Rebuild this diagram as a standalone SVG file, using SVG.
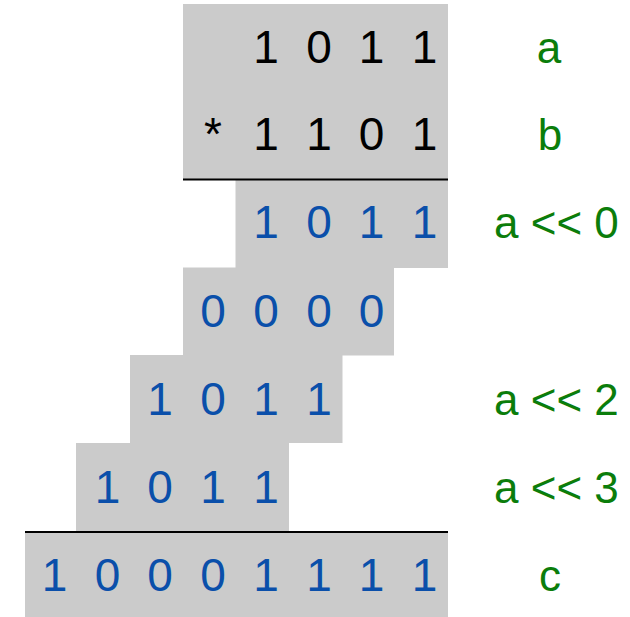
<svg xmlns="http://www.w3.org/2000/svg" width="630" height="617" viewBox="0 0 630 617">
  <style>
    .cell { fill: #cbcbcb; }
    .rule { stroke: #000; stroke-width: 2; fill: none; }
    text { font-family: "Liberation Sans", Arial, sans-serif; font-size: 44px; }
    .op { fill: #000; text-anchor: middle; font-size: 46px; }
    .bit { fill: #0a4faa; text-anchor: middle; font-size: 46px; }
    .lbl { fill: #0b7d0b; }
    .mid { text-anchor: middle; }
  </style>
  <rect width="630" height="617" fill="#fff"/>

  <!-- operands a and b -->
  <g id="operands">
    <rect class="cell" x="183" y="4" width="265" height="175"/>
    <text class="op" x="266" y="63">1</text>
    <text class="op" x="319" y="63">0</text>
    <text class="op" x="371.5" y="63">1</text>
    <text class="op" x="424.5" y="63">1</text>
    <text class="op" x="213" y="150">*</text>
    <text class="op" x="266" y="150">1</text>
    <text class="op" x="319" y="150">1</text>
    <text class="op" x="371.5" y="150">0</text>
    <text class="op" x="424.5" y="150">1</text>
  </g>

  <!-- partial products -->
  <g id="pp0">
    <rect class="cell" x="235.5" y="180" width="212.5" height="88"/>
    <text class="bit" x="266" y="238">1</text>
    <text class="bit" x="319" y="238">0</text>
    <text class="bit" x="371.5" y="238">1</text>
    <text class="bit" x="424.5" y="238">1</text>
  </g>
  <g id="pp1">
    <rect class="cell" x="183" y="267.5" width="211" height="88"/>
    <text class="bit" x="213" y="327">0</text>
    <text class="bit" x="266" y="327">0</text>
    <text class="bit" x="319" y="327">0</text>
    <text class="bit" x="371.5" y="327">0</text>
  </g>
  <g id="pp2">
    <rect class="cell" x="130" y="355" width="212.5" height="88"/>
    <text class="bit" x="160" y="415">1</text>
    <text class="bit" x="213" y="415">0</text>
    <text class="bit" x="266" y="415">1</text>
    <text class="bit" x="319" y="415">1</text>
  </g>
  <g id="pp3">
    <rect class="cell" x="76" y="443" width="213" height="88"/>
    <text class="bit" x="107.5" y="503">1</text>
    <text class="bit" x="160" y="503">0</text>
    <text class="bit" x="213" y="503">1</text>
    <text class="bit" x="266" y="503">1</text>
  </g>

  <!-- product c -->
  <g id="product">
    <rect class="cell" x="25" y="532" width="423" height="85"/>
    <text class="bit" x="54.5" y="591">1</text>
    <text class="bit" x="107.5" y="591">0</text>
    <text class="bit" x="160" y="591">0</text>
    <text class="bit" x="213" y="591">0</text>
    <text class="bit" x="266" y="591">1</text>
    <text class="bit" x="319" y="591">1</text>
    <text class="bit" x="371.5" y="591">1</text>
    <text class="bit" x="424.5" y="591">1</text>
  </g>

  <!-- separator rules -->
  <g id="rules">
    <line class="rule" x1="183" y1="179.5" x2="448" y2="179.5"/>
    <line class="rule" x1="25" y1="532" x2="448" y2="532"/>
  </g>

  <!-- row labels -->
  <g id="labels">
    <text class="lbl mid" x="549" y="63">a</text>
    <text class="lbl mid" x="550" y="150">b</text>
    <text class="lbl" x="494" y="238">a &lt;&lt; 0</text>
    <text class="lbl" x="494" y="415">a &lt;&lt; 2</text>
    <text class="lbl" x="494" y="503">a &lt;&lt; 3</text>
    <text class="lbl mid" x="550" y="591">c</text>
  </g>
</svg>
